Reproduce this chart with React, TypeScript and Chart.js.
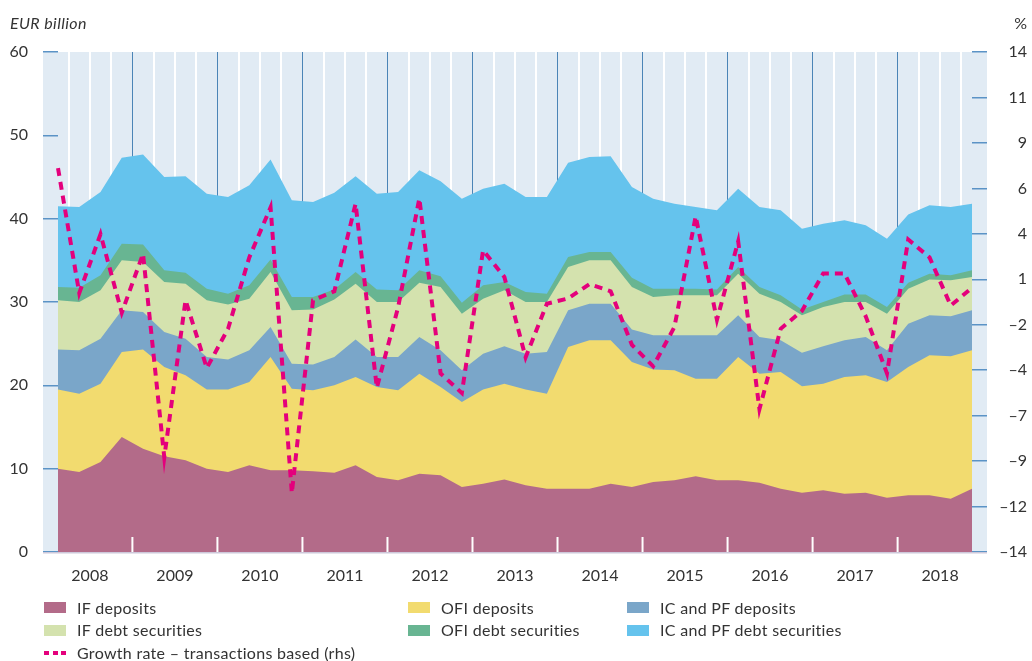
import React, { useEffect, useRef } from 'react';
import { Chart, registerables } from 'chart.js';

Chart.register(...registerables);

const years = ['2008', '2009', '2010', '2011', '2012', '2013', '2014', '2015', '2016', '2017', '2018'];
const quarters = years.flatMap((y) => ['Q1', 'Q2', 'Q3', 'Q4'].map((q) => `${y} ${q}`));

const ifDeposits = [10.0, 9.6, 10.8, 13.8, 12.4, 11.5, 11.0, 10.0, 9.6, 10.4, 9.8, 9.8, 9.7, 9.5, 10.4, 9.0, 8.6, 9.4, 9.2, 7.8, 8.2, 8.7, 8.0, 7.6, 7.6, 7.6, 8.2, 7.8, 8.4, 8.6, 9.1, 8.6, 8.6, 8.3, 7.6, 7.1, 7.4, 7.0, 7.1, 6.5, 6.8, 6.8, 6.4, 7.6];
const ofiDeposits = [9.5, 9.4, 9.4, 10.2, 11.9, 10.7, 10.2, 9.5, 9.9, 10.0, 13.6, 9.8, 9.7, 10.5, 10.6, 10.8, 10.8, 12.0, 10.6, 10.2, 11.3, 11.5, 11.5, 11.4, 17.0, 17.8, 17.2, 15.0, 13.5, 13.2, 11.7, 12.2, 14.8, 13.1, 14.0, 12.8, 12.8, 14.0, 14.1, 13.9, 15.4, 16.8, 17.1, 16.6];
const icpfDeposits = [4.8, 5.2, 5.4, 5.0, 4.5, 4.2, 4.4, 3.9, 3.6, 3.8, 3.6, 3.0, 3.1, 3.4, 4.5, 3.6, 4.0, 4.4, 4.4, 3.8, 4.3, 4.5, 4.3, 5.0, 4.4, 4.4, 4.4, 3.9, 4.1, 4.2, 5.2, 5.2, 5.0, 4.4, 3.8, 4.0, 4.5, 4.4, 4.6, 3.8, 5.2, 4.8, 4.8, 4.8];
const ifDebtSecurities = [5.9, 5.8, 5.8, 6.0, 6.0, 6.0, 6.6, 6.8, 6.6, 6.2, 6.6, 6.4, 6.6, 6.9, 6.7, 6.6, 6.6, 6.5, 7.6, 6.8, 6.6, 6.7, 6.2, 6.0, 5.2, 5.2, 5.2, 5.1, 4.6, 4.8, 4.8, 4.8, 5.0, 5.2, 4.6, 4.5, 4.7, 4.6, 4.2, 4.4, 4.2, 4.3, 4.3, 4.0];
const ofiDebtSecurities = [1.6, 1.7, 1.8, 2.0, 2.1, 1.4, 1.3, 1.4, 1.3, 1.6, 1.5, 1.6, 1.5, 1.2, 1.4, 1.5, 1.4, 1.5, 1.3, 1.3, 1.6, 1.0, 1.2, 1.0, 1.2, 1.0, 1.0, 1.1, 1.0, 0.8, 0.8, 0.7, 0.8, 0.8, 0.8, 0.7, 0.6, 0.9, 0.9, 0.8, 0.7, 0.7, 0.6, 0.8];
const icpfDebtSecurities = [9.7, 9.7, 10.0, 10.3, 10.8, 11.2, 11.6, 11.4, 11.6, 12.0, 12.0, 11.6, 11.4, 11.6, 11.5, 11.5, 11.8, 12.0, 11.4, 12.5, 11.6, 11.8, 11.4, 11.6, 11.3, 11.4, 11.5, 10.9, 10.8, 10.2, 9.8, 9.5, 9.4, 9.6, 10.2, 9.7, 9.4, 8.9, 8.3, 8.2, 8.2, 8.2, 8.2, 8.0];
const growthRate = [7.5, 0.5, 3.8, -0.6, 2.7, -8.7, 0.1, -3.7, -1.5, 2.5, 5.3, -10.7, 0.1, 0.6, 5.5, -4.8, -0.3, 5.8, -4.0, -5.1, 2.9, 1.4, -3.1, -0.1, 0.2, 1.0, 0.6, -2.4, -3.6, -1.4, 4.8, -1.0, 3.4, -6.0, -1.5, -0.5, 1.6, 1.6, -0.8, -4.0, 3.5, 2.5, -0.2, 0.8];
const rhsTickLabels = ['–14', '–12', '–9', '–7', '–4', '–2', '1', '4', '6', '9', '11', '14'];

const seriesNames = [
  'IF deposits',
  'OFI deposits',
  'IC and PF deposits',
  'IF debt securities',
  'OFI debt securities',
  'IC and PF debt securities',
];
const growthName = 'Growth rate – transactions based (rhs)';

const COLORS = {
  ifDep: '#b36b89',
  ofiDep: '#f2db6f',
  icpfDep: '#7aa6c9',
  ifDebt: '#d4e2ae',
  ofiDebt: '#68b592',
  icpfDebt: '#65c3ed',
  growth: '#e4007c',
  bg: '#e1ebf4',
  text: '#333333',
  tick: '#5b93c6',
  yearLine: '#4b84b6',
};

const FONT_FAMILY = 'Lato, "Open Sans", "DejaVu Sans", sans-serif';

const bgPlugin = {
  id: 'bgPlugin',
  beforeDraw(chart: any) {
    const { ctx, chartArea: a } = chart;
    ctx.save();
    ctx.fillStyle = COLORS.bg;
    ctx.fillRect(a.left - 15, a.top, a.right - a.left + 30, a.bottom - a.top);
    ctx.restore();
  },
  afterDatasetsDraw(chart: any) {
    const { ctx, chartArea: a, scales } = chart;
    const x = scales.x;
    ctx.save();
    ctx.strokeStyle = '#ffffff';
    ctx.lineWidth = 2;
    for (let i = 4; i < quarters.length; i += 4) {
      const px = (x.getPixelForValue(i - 1) + x.getPixelForValue(i)) / 2;
      ctx.beginPath();
      ctx.moveTo(px, a.bottom - 15);
      ctx.lineTo(px, a.bottom);
      ctx.stroke();
    }
    ctx.strokeStyle = '#cdc8da';
    ctx.lineWidth = 1.5;
    ctx.beginPath();
    ctx.moveTo(a.left - 15, a.bottom + 0.75);
    ctx.lineTo(a.right + 15, a.bottom + 0.75);
    ctx.stroke();
    ctx.restore();
  },
};

function area(label: string, data: number[], color: string) {
  return {
    label,
    data,
    yAxisID: 'y',
    backgroundColor: color,
    borderColor: color,
    borderWidth: 0,
    pointRadius: 0,
    fill: 'origin',
    tension: 0,
  };
}

export default function App() {
  const ref = useRef<HTMLCanvasElement>(null);

  useEffect(() => {
    const canvas = ref.current;
    if (!canvas) return;
    const font = { family: FONT_FAMILY, size: 16 };
    const band = (972 - 58) / (quarters.length - 1);
    const chart = new Chart(canvas, {
      type: 'line',
      data: {
        labels: quarters,
        datasets: [
          area(seriesNames[0], ifDeposits, COLORS.ifDep),
          area(seriesNames[1], ofiDeposits, COLORS.ofiDep),
          area(seriesNames[2], icpfDeposits, COLORS.icpfDep),
          area(seriesNames[3], ifDebtSecurities, COLORS.ifDebt),
          area(seriesNames[4], ofiDebtSecurities, COLORS.ofiDebt),
          area(seriesNames[5], icpfDebtSecurities, COLORS.icpfDebt),
          {
            label: growthName,
            data: growthRate,
            yAxisID: 'y1',
            borderColor: COLORS.growth,
            backgroundColor: COLORS.growth,
            borderWidth: 4,
            borderDash: [8, 6],
            borderCapStyle: 'butt',
            borderJoinStyle: 'miter',
            pointRadius: 0,
            fill: false,
            tension: 0,
            order: -1,
          } as any,
        ],
      },
      options: {
        responsive: false,
        animation: false,
        events: [],
        layout: { padding: { top: 52, left: 0, right: 5, bottom: 0 } },
        plugins: { legend: { display: false }, tooltip: { enabled: false } },
        scales: {
          x: {
            type: 'category',
            offset: false,
            grid: {
              offset: true,
              drawTicks: false,
              color: (c: any) => (c.index % 4 === 0 ? COLORS.yearLine : '#ffffff'),
              lineWidth: (c: any) => (c.index % 4 === 0 ? 1 : 2),
            },
            border: { display: false },
            ticks: {
              autoSkip: false,
              maxRotation: 0,
              minRotation: 0,
              labelOffset: band / 2,
              padding: 14,
              color: COLORS.text,
              font,
              callback: (_v: any, i: number) => (i % 4 === 1 ? years[(i - 1) / 4] : ''),
            },
            afterFit: (s: any) => {
              s.height = 109;
            },
          },
          y: {
            stacked: true,
            min: 0,
            max: 60,
            ticks: { stepSize: 10, padding: 15, color: COLORS.text, font },
            grid: { drawOnChartArea: false, tickLength: 15, color: COLORS.tick, lineWidth: 1.5 },
            border: { display: false },
            afterFit: (s: any) => {
              s.width = 58;
            },
          },
          y1: {
            position: 'right',
            min: -14,
            max: 14,
            afterBuildTicks: (s: any) => {
              s.ticks = rhsTickLabels.map((_, i) => ({ value: -14 + (28 * i) / (rhsTickLabels.length - 1) }));
            },
            ticks: {
              padding: 11,
              crossAlign: 'far',
              color: COLORS.text,
              font,
              callback: (_v: any, i: number) => rhsTickLabels[i],
            },
            grid: { drawOnChartArea: false, tickLength: 15, color: COLORS.tick, lineWidth: 1.5 },
            border: { display: false },
            afterFit: (s: any) => {
              s.width = 55;
            },
          },
        },
      } as any,
      plugins: [bgPlugin],
    });
    return () => chart.destroy();
  }, []);

  const legendCols = [44, 408, 627];
  const legendRows = [607.5, 630, 653];
  const swatchColors = [COLORS.ifDep, COLORS.ofiDep, COLORS.icpfDep, COLORS.ifDebt, COLORS.ofiDebt, COLORS.icpfDebt];

  const textStyle: React.CSSProperties = {
    fontFamily: FONT_FAMILY,
    fontSize: 16,
    letterSpacing: '0.3px',
    color: COLORS.text,
    whiteSpace: 'nowrap',
    lineHeight: '20px',
  };

  return (
    <div style={{ position: 'absolute', left: 0, top: 0, width: 1032, height: 661, background: '#fff', overflow: 'hidden' }}>
      <canvas ref={ref} width={1032} height={661} style={{ position: 'absolute', left: 0, top: 0 }} />
      <div style={{ ...textStyle, position: 'absolute', left: 10, top: 13, fontStyle: 'italic', letterSpacing: '0.4px' }}>EUR billion</div>
      <div style={{ ...textStyle, position: 'absolute', right: 5, top: 13, letterSpacing: 0 }}>%</div>
      {seriesNames.map((name, k) => {
        const col = k % 3;
        const row = Math.floor(k / 3);
        return (
          <div
            key={name}
            style={{ position: 'absolute', left: legendCols[col], top: legendRows[row] - 10, height: 20, display: 'flex', alignItems: 'center' }}
          >
            <span style={{ display: 'inline-block', width: 22, height: 11, background: swatchColors[k], marginRight: 11 }} />
            <span style={textStyle}>{name}</span>
          </div>
        );
      })}
      <div style={{ position: 'absolute', left: legendCols[0], top: legendRows[2] - 10, height: 20, display: 'flex', alignItems: 'center' }}>
        <span style={{ display: 'inline-flex', width: 22, height: 4, marginRight: 11, justifyContent: 'space-between' }}>
          <span style={{ width: 5, height: 4, background: COLORS.growth }} />
          <span style={{ width: 5, height: 4, background: COLORS.growth }} />
          <span style={{ width: 5, height: 4, background: COLORS.growth }} />
        </span>
        <span style={textStyle}>{growthName}</span>
      </div>
    </div>
  );
}
